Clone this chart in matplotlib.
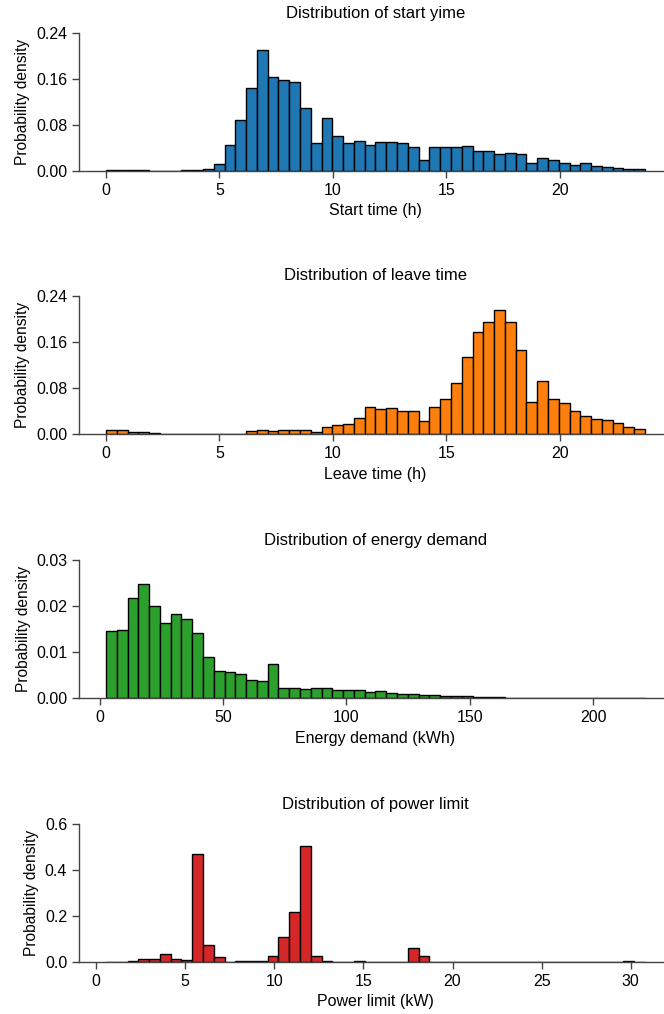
import numpy as np
import matplotlib
matplotlib.use("Agg")
import matplotlib.pyplot as plt

plt.rcParams['font.family'] = ['Liberation Sans', 'DejaVu Sans']

# ---- data (probability density per bin, 50 equal bins each) ----
start_range = (0.0, 23.75)
start_density = [0.0017, 0.0020, 0.0010, 0.0010, 0.0008, 0.0005, 0.0005, 0.0010, 0.0013, 0.0035,
                 0.0127, 0.0450, 0.0880, 0.1450, 0.2110, 0.1630, 0.1590, 0.1540, 0.1100, 0.0480,
                 0.0930, 0.0610, 0.0480, 0.0520, 0.0444, 0.0513, 0.0508, 0.0479, 0.0410, 0.0200,
                 0.0420, 0.0410, 0.0410, 0.0430, 0.0340, 0.0340, 0.0300, 0.0306, 0.0288, 0.0133,
                 0.0219, 0.0185, 0.0144, 0.0110, 0.0133, 0.0092, 0.0069, 0.0052, 0.0035, 0.0029]

leave_range = (0.0, 23.75)
leave_density = [0.0081, 0.0069, 0.0040, 0.0035, 0.0023, 0.0012, 0.0012, 0.0006, 0.0006, 0.0003,
                 0.0006, 0.0010, 0.0012, 0.0052, 0.0069, 0.0052, 0.0069, 0.0069, 0.0069, 0.0035,
                 0.0133, 0.0156, 0.0173, 0.0288, 0.0467, 0.0444, 0.0462, 0.0404, 0.0398, 0.0231,
                 0.0479, 0.0617, 0.0883, 0.1344, 0.1765, 0.1950, 0.2152, 0.1938, 0.1460, 0.0565,
                 0.0929, 0.0606, 0.0542, 0.0404, 0.0323, 0.0265, 0.0242, 0.0196, 0.0121, 0.0098]

energy_range = (2.57, 221.0)
energy_density = [0.0146, 0.0148, 0.0217, 0.0247, 0.0200, 0.0163, 0.0183, 0.0171, 0.0141, 0.0090,
                  0.0059, 0.0056, 0.0053, 0.0039, 0.0038, 0.0074, 0.0022, 0.0022, 0.0020, 0.0022,
                  0.0022, 0.0017, 0.0017, 0.0019, 0.0013, 0.0016, 0.0011, 0.0010, 0.0009, 0.0008,
                  0.0007, 0.0006, 0.0005, 0.0005, 0.0003, 0.0003, 0.0002, 0.00015, 0.0001, 0.0001,
                  0.00008, 0.00005, 0.00005, 0.00005, 0.00003, 0.00003, 0.00003, 0.00002, 0.00002, 0.00002]

power_range = (0.555, 30.8)
power_density = [0.0010, 0.0010, 0.0030, 0.0116, 0.0116, 0.0333, 0.0130, 0.0070, 0.4680, 0.0725,
                 0.0217, 0.0010, 0.0030, 0.0030, 0.0030, 0.0275, 0.1100, 0.2160, 0.5030, 0.0246,
                 0.0040, 0.0020, 0.0020, 0.0030, 0.0010, 0.0010, 0.0005, 0.0010, 0.0623, 0.0260,
                 0.0010, 0.0010, 0.0010, 0.0010, 0.0010, 0.0010, 0.0010, 0.0020, 0.0010, 0.0010,
                 0.0010, 0.0010, 0.0010, 0.0010, 0.0020, 0.0010, 0.0010, 0.0010, 0.0030, 0.0010]

titles = ["Distribution of start yime", "Distribution of leave time",
          "Distribution of energy demand", "Distribution of power limit"]
xlabels = ["Start time (h)", "Leave time (h)", "Energy demand (kWh)", "Power limit (kW)"]
colors = ["#1f77b4", "#ff7f0e", "#2ca02c", "#d62728"]
ymax = [0.24, 0.24, 0.03, 0.6]
yticks = [[0, 0.08, 0.16, 0.24], [0, 0.08, 0.16, 0.24], [0, 0.01, 0.02, 0.03], [0, 0.2, 0.4, 0.6]]
yfmt = ["%.2f", "%.2f", "%.2f", "%.1f"]
xticks = [[0, 5, 10, 15, 20], [0, 5, 10, 15, 20], [0, 50, 100, 150, 200], [0, 5, 10, 15, 20, 25, 30]]

ranges = [start_range, leave_range, energy_range, power_range]
densities = [start_density, leave_density, energy_density, power_density]

W, H = 664, 1014
fig = plt.figure(figsize=(W / 100, H / 100), dpi=100)
tops = [33, 295.7, 560, 824]
bottoms = [171, 434.3, 698.3, 962]
left_px, right_px = 79, 672

for i in range(4):
    ax = fig.add_axes([left_px / W, 1 - bottoms[i] / H, (right_px - left_px) / W, (bottoms[i] - tops[i]) / H])
    edges = np.linspace(ranges[i][0], ranges[i][1], len(densities[i]) + 1)
    ax.hist(edges[:-1], bins=edges, weights=densities[i], color=colors[i],
            edgecolor="black", linewidth=1.0)
    ax.set_ylim(0, ymax[i])
    ax.set_yticks(yticks[i])
    ax.set_yticklabels([yfmt[i] % v for v in yticks[i]])
    ax.set_xticks(xticks[i])
    ax.set_title(titles[i], fontsize=12, pad=11)
    ax.set_xlabel(xlabels[i], fontsize=11.5, labelpad=4)
    ax.set_ylabel("Probability density", fontsize=11.2, labelpad=4)
    ax.tick_params(labelsize=11.5, length=5, width=1.0, color="#444444", pad=3.5)
    for s in ["top", "right"]:
        ax.spines[s].set_visible(False)
    for s in ["left", "bottom"]:
        ax.spines[s].set_linewidth(1.0)
        ax.spines[s].set_color("#444444")

fig.savefig("out.png", dpi=100)
